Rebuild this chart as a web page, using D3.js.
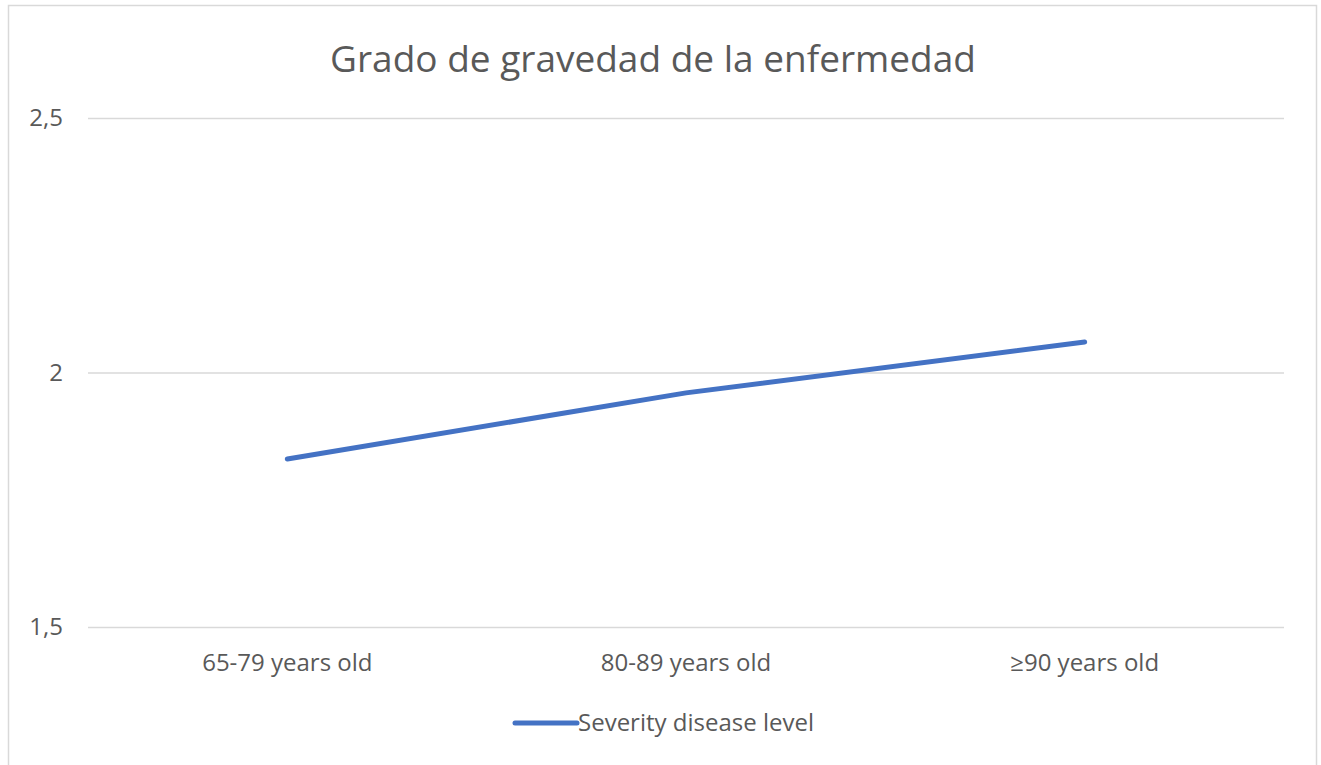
<!DOCTYPE html>
<html>
<head>
<meta charset="utf-8">
<script src="https://cdn.jsdelivr.net/npm/d3@7"></script>
<style>
  body { margin: 0; background: #fff; }
  svg { display: block; }
  .grid line { stroke: #d9d9d9; stroke-width: 1.5; }
  .grid .domain { display: none; }
  text { font-family: "Open Sans", sans-serif; fill: #595959; }
</style>
</head>
<body>
<div id="chart"></div>
<script>
let title = 'Grado de gravedad de la enfermedad'
let categories = ['65-79 years old', '80-89 years old', '\u226590 years old']
let seriesName = 'Severity disease level'
let severity = [1.83, 1.96, 2.06]
let yTicks = [1.5, 2, 2.5]

let width = 1321
let height = 765
let margin = {
    top: 118,
    right: 37,
    bottom: 138,
    left: 88
}
let innerW = width - margin.left - margin.right
let innerH = height - margin.top - margin.bottom

let svg = d3.select('#chart').append('svg')
    .attr('width', width)
    .attr('height', height)

// chart frame
svg.append('rect')
    .attr('x', 8.5)
    .attr('y', 5.5)
    .attr('width', 1308)
    .attr('height', 780)
    .attr('fill', '#fff')
    .attr('stroke', '#d9d9d9')
    .attr('stroke-width', 1.5)

svg.append('text')
    .attr('x', 653)
    .attr('y', 72)
    .attr('text-anchor', 'middle')
    .style('font-size', '37px')
    .text(title)

let g = svg.append('g')
    .attr('transform', 'translate(' + margin.left + ',' + margin.top + ')')

let x = d3.scaleBand()
    .domain(categories)
    .range([0, innerW])

let y = d3.scaleLinear()
    .domain([1.5, 2.5])
    .range([innerH, 0])

let fmt = d => String(d).replace('.', ',')

g.append('g')
    .attr('class', 'grid')
    .call(d3.axisLeft(y).tickValues(yTicks).tickSize(-innerW).tickFormat(''))

let yAxis = g.append('g')
    .call(d3.axisLeft(y).tickValues(yTicks).tickSize(0).tickPadding(25).tickFormat(fmt))
yAxis.select('.domain').remove()
yAxis.selectAll('text')
    .style('font-size', '24px')
    .style('fill', '#595959')

let xAxis = g.append('g')
    .attr('transform', 'translate(0,' + innerH + ')')
    .call(d3.axisBottom(x).tickSize(0).tickPadding(27))
xAxis.select('.domain').remove()
xAxis.selectAll('text')
    .style('font-size', '24px')
    .style('fill', '#595959')

let line = d3.line()
    .x((d, i) => x(categories[i]) + x.bandwidth() / 2)
    .y(d => y(d))

g.append('path')
    .datum(severity)
    .attr('d', line)
    .attr('fill', 'none')
    .attr('stroke', '#4472c4')
    .attr('stroke-width', 5)
    .attr('stroke-linecap', 'round')

// legend
let legend = svg.append('g')
    .attr('transform', 'translate(515,723)')

legend.append('line')
    .attr('x1', 0)
    .attr('x2', 62)
    .attr('stroke', '#4472c4')
    .attr('stroke-width', 5)
    .attr('stroke-linecap', 'round')

legend.append('text')
    .attr('x', 63)
    .attr('y', 8)
    .style('font-size', '24px')
    .text(seriesName)
</script>
</body>
</html>
